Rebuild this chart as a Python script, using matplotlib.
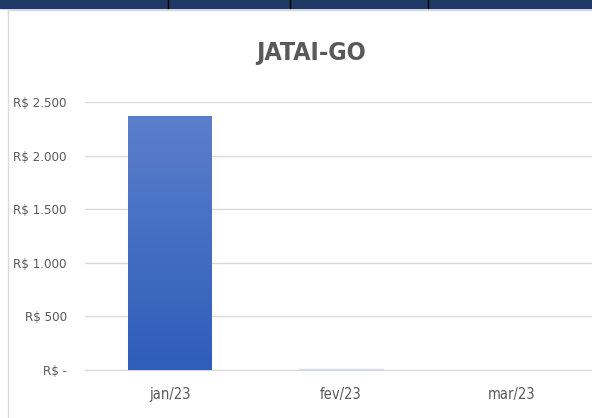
import matplotlib.pyplot as plt
import matplotlib.patches as mpatches
from matplotlib.colors import LinearSegmentedColormap
import numpy as np

# data
months = ['jan/23', 'fev/23', 'mar/23']
valores = [2370, 12, 0]
ticks = [0, 500, 1000, 1500, 2000, 2500]
tick_labels = ['R$ -', 'R$ 500', 'R$ 1.000', 'R$ 1.500', 'R$ 2.000', 'R$ 2.500']

plt.rcParams['font.family'] = ['DejaVu Sans']
plt.rcParams['font.stretch'] = 'condensed'

fig = plt.figure(figsize=(5.92, 4.18), dpi=100)
W, H = 592, 418

# spreadsheet header strip + chart frame
fig.patches.append(mpatches.Rectangle((0, 1 - 8 / H), 1, 8 / H, transform=fig.transFigure,
                                      color='#1F3864', zorder=0))
for xd in [168, 290, 428]:
    fig.add_artist(plt.Line2D([xd / W, xd / W], [1 - 8 / H, 1], color='black', lw=1))
fig.add_artist(plt.Line2D([8 / W, 8 / W], [0, 1 - 10 / H], color='#D9D9D9', lw=1))
fig.add_artist(plt.Line2D([8 / W, 1], [1 - 10 / H, 1 - 10 / H], color='#D9D9D9', lw=1))

# axes: x from 85px, spacing 170.5px per category
left = 85 / W
width = 511.5 / W
bottom = (H - 370) / H
height = (370 - 102) / H
ax = fig.add_axes([left, bottom, width, height])

x = np.arange(len(months))
bars = ax.bar(x, valores, width=0.49, color='#4472C4', zorder=2)

# vertical gradient in the big bar
grad = np.linspace(0, 1, 256).reshape(-1, 1)
cmap = LinearSegmentedColormap.from_list('g', ['#2E5DBA', '#5B7FCB'])
b = bars[0]
x0, y0 = b.get_x(), b.get_y()
im = ax.imshow(grad, extent=[x0, x0 + b.get_width(), y0, y0 + b.get_height()],
               origin='lower', cmap=cmap, aspect='auto', zorder=3)
im.set_clip_path(b)
bars[1].set_color('#D5DCEE')

ax.set_xlim(-0.5, 2.5)
ax.set_ylim(0, 2500)
ax.set_yticks(ticks)
ax.set_yticklabels(tick_labels)
ax.set_xticks(x)
ax.set_xticklabels(months)
ax.yaxis.grid(True, color='#D9D9D9', lw=1, zorder=0)
ax.set_axisbelow(True)
for s in ['top', 'right', 'left']:
    ax.spines[s].set_visible(False)
ax.spines['bottom'].set_color('#D9D9D9')
ax.tick_params(axis='both', length=0, colors='#595959')
ax.tick_params(axis='y', pad=13, labelsize=9.5)
ax.tick_params(axis='x', pad=12, labelsize=10.5)

fig.text(311 / W, 1 - 53 / H, 'JATAI-GO', ha='center', va='center', fontsize=18,
         fontweight='bold', color='#595959')

fig.savefig('out.png', dpi=100)
